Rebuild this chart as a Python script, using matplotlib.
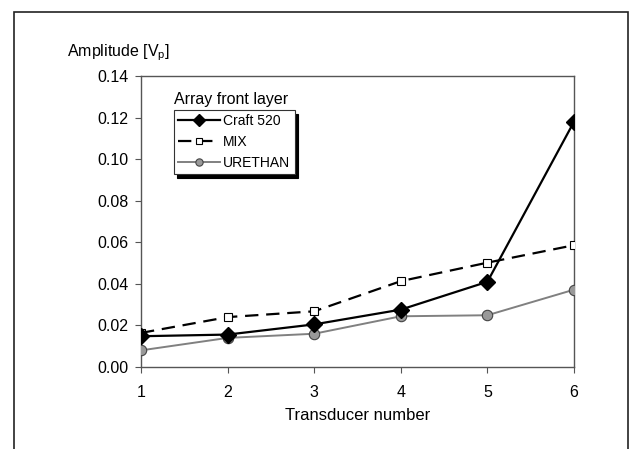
import matplotlib
import numpy as np

matplotlib.use("Agg")
matplotlib.rcParams["font.family"] = ["Liberation Sans", "DejaVu Sans"]
import matplotlib.pyplot as plt  # noqa: E402
from matplotlib.patches import Rectangle  # noqa: E402

# values
transducer = [1, 2, 3, 4, 5, 6]
craft_520 = [0.0148, 0.0156, 0.0205, 0.0276, 0.0410, 0.1180]
mix = [0.0164, 0.0240, 0.0268, 0.0413, 0.0502, 0.0586]
urethan = [0.0080, 0.0140, 0.0160, 0.0244, 0.0249, 0.0372]
y_ticks = np.arange(0, 0.141, 0.02)

W, H = 630, 449
fig = plt.figure(figsize=(W / 100, H / 100), dpi=100)

# outer frame around the whole chart
fig.patches.append(
    Rectangle((14 / W, -0.05), 614 / W, 1.05 - 12 / H, transform=fig.transFigure,
              fill=False, edgecolor="#222222", linewidth=1.2)
)

ax = fig.add_axes([141 / W, (H - 367) / H, 433 / W, 291 / H])

ax.plot(transducer, mix, color="black", linestyle=(0, (6, 3.5)), linewidth=1.6,
        marker="s", markersize=6, markerfacecolor="white", markeredgecolor="black",
        markeredgewidth=0.8, label="MIX", zorder=3)
ax.plot(transducer, urethan, color="#808080", linewidth=1.4, marker="o",
        markersize=7.5, markerfacecolor="#999999", markeredgecolor="#444444",
        markeredgewidth=0.8, label="URETHAN", zorder=3)
ax.plot(transducer, craft_520, color="black", linewidth=1.6, marker="D",
        markersize=8.5, markerfacecolor="black", markeredgecolor="black",
        label="Craft 520", zorder=4)

ax.set_xlim(1, 6)
ax.set_ylim(0, 0.14)
ax.set_xticks(transducer)
ax.set_yticks(y_ticks)
ax.set_yticklabels([f"{v:.2f}" for v in y_ticks])
ax.tick_params(direction="out", length=4, width=0.8, color="#555555",
               labelsize=11.5, pad=5)
ax.tick_params(axis="x", pad=9)
for s in ax.spines.values():
    s.set_color("#555555")
    s.set_linewidth(1.0)

ax.set_xlabel("Transducer number", fontsize=12, labelpad=6)
fig.text(67 / W, 1 - 53 / H, "Amplitude [V$_\\mathregular{p}$]", fontsize=11.5,
         ha="left", va="center")

handles, labels = ax.get_legend_handles_labels()
order = [2, 0, 1]
leg = ax.legend([handles[i] for i in order], [labels[i] for i in order],
                loc="upper left", bbox_to_anchor=(0.076, 0.883), borderaxespad=0,
                fancybox=False, edgecolor="#333333", framealpha=1,
                fontsize=10, handlelength=3.0, labelspacing=0.5, markerscale=0.7,
                handletextpad=0.25, borderpad=0.3,
                shadow={"color": "black", "alpha": 1.0, "ox": 2.5, "oy": -2.5})
leg.get_frame().set_linewidth(0.8)
ax.text(0.076, 0.895, "Array front layer", transform=ax.transAxes, fontsize=11.5,
        ha="left", va="bottom")

fig.savefig("out.png", dpi=100)
